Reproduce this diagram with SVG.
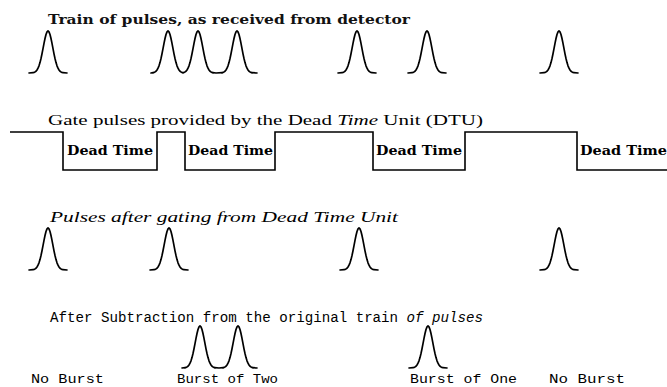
<svg xmlns="http://www.w3.org/2000/svg" xmlns:xlink="http://www.w3.org/1999/xlink" width="667" height="387" viewBox="0 0 667 387">
<style>
.p{fill:none;stroke:#000;stroke-width:1.7;stroke-linejoin:round;stroke-linecap:round}
.g{fill:none;stroke:#000;stroke-width:1.6}
.h{font-family:"Liberation Serif","DejaVu Serif",serif;font-size:15px;fill:#000}
.t1{font-family:"DejaVu Serif","Liberation Serif",serif;font-size:13px;font-weight:bold;fill:#111}
.it{font-style:italic}
.dt{font-family:"DejaVu Serif","Liberation Serif",serif;font-size:13.5px;font-weight:bold;fill:#000}
.m{font-family:"Liberation Mono","DejaVu Sans Mono",monospace;font-size:14px;fill:#000}
.lb{font-size:13.5px}
</style>
<defs>
<path id="core" d="M-15,-0.3 L-14,-0.6 L-13,-1.1 L-12,-1.8 L-11,-3 L-10,-4.8 L-9,-7.2 L-8,-10.4 L-7,-14.5 L-6,-19.2 L-5,-24.4 L-4,-29.7 L-3,-34.5 L-2,-38.5 L-1,-41.1 L0,-42 L1,-41.1 L2,-38.5 L3,-34.5 L4,-29.7 L5,-24.4 L6,-19.2 L7,-14.5 L8,-10.4 L9,-7.2 L10,-4.8 L11,-3 L12,-1.8 L13,-1.1 L14,-0.6 L15,-0.3"/>
<path id="pulse" d="M-19,0 L-15,-0.3 L-14,-0.6 L-13,-1.1 L-12,-1.8 L-11,-3 L-10,-4.8 L-9,-7.2 L-8,-10.4 L-7,-14.5 L-6,-19.2 L-5,-24.4 L-4,-29.7 L-3,-34.5 L-2,-38.5 L-1,-41.1 L0,-42 L1,-41.1 L2,-38.5 L3,-34.5 L4,-29.7 L5,-24.4 L6,-19.2 L7,-14.5 L8,-10.4 L9,-7.2 L10,-4.8 L11,-3 L12,-1.8 L13,-1.1 L14,-0.6 L15,-0.3 L19,0"/>
</defs>

<g id="row1">
<text class="t1" x="48" y="24" textLength="362" lengthAdjust="spacingAndGlyphs">Train of pulses, as received from detector</text>
<g class="p">
<use xlink:href="#pulse" x="48" y="73"/>
<path d="M151,73 L153,72.7"/>
<use xlink:href="#core" x="168" y="73"/>
<use xlink:href="#core" x="198" y="73"/>
<path d="M213,72.7 L216,73 L222,72.7"/>
<use xlink:href="#core" x="237" y="73"/>
<path d="M252,72.7 L257,73"/>
<use xlink:href="#pulse" x="357" y="73"/>
<use xlink:href="#pulse" x="427" y="73"/>
<use xlink:href="#pulse" x="559" y="73"/>
</g>
</g>

<g id="row2">
<text class="h" x="48" y="125" textLength="435" lengthAdjust="spacingAndGlyphs">Gate pulses provided by the Dead <tspan class="it">Time</tspan> Unit (DTU)</text>
<path class="g" d="M10,132 H63 V170 H157 V132 H185 V170 H275 V132 H373 V170 H465 V132 H577 V170 H667"/>
<text class="dt" x="67" y="155" textLength="86" lengthAdjust="spacingAndGlyphs">Dead Time</text>
<text class="dt" x="188" y="155" textLength="85" lengthAdjust="spacingAndGlyphs">Dead Time</text>
<text class="dt" x="376" y="155" textLength="86" lengthAdjust="spacingAndGlyphs">Dead Time</text>
<text class="dt" x="580" y="155" textLength="87" lengthAdjust="spacingAndGlyphs">Dead Time</text>
</g>

<g id="row3">
<text class="h it" x="50" y="222" textLength="348" lengthAdjust="spacingAndGlyphs">Pulses after gating from Dead Time Unit</text>
<g class="p">
<use xlink:href="#pulse" x="48" y="270"/>
<use xlink:href="#pulse" x="169" y="270"/>
<use xlink:href="#pulse" x="359" y="270"/>
<use xlink:href="#pulse" x="559" y="270"/>
</g>
</g>

<g id="row4">
<text class="m" x="50" y="322" textLength="433" lengthAdjust="spacingAndGlyphs">After Subtraction from the original train <tspan class="it">of pulses</tspan></text>
<g class="p">
<path d="M182,368 L185,367.7"/>
<use xlink:href="#core" x="200" y="368"/>
<path d="M215,367.7 L219,368 L223,367.7"/>
<use xlink:href="#core" x="238" y="368"/>
<path d="M253,367.7 L257,368"/>
<use xlink:href="#pulse" x="428" y="368"/>
</g>
<text class="m lb" x="31" y="383" textLength="73" lengthAdjust="spacingAndGlyphs">No Burst</text>
<text class="m lb" x="177" y="383" textLength="101" lengthAdjust="spacingAndGlyphs">Burst of Two</text>
<text class="m lb" x="410" y="383" textLength="107" lengthAdjust="spacingAndGlyphs">Burst of One</text>
<text class="m lb" x="549" y="383" textLength="76" lengthAdjust="spacingAndGlyphs">No Burst</text>
</g>
</svg>
